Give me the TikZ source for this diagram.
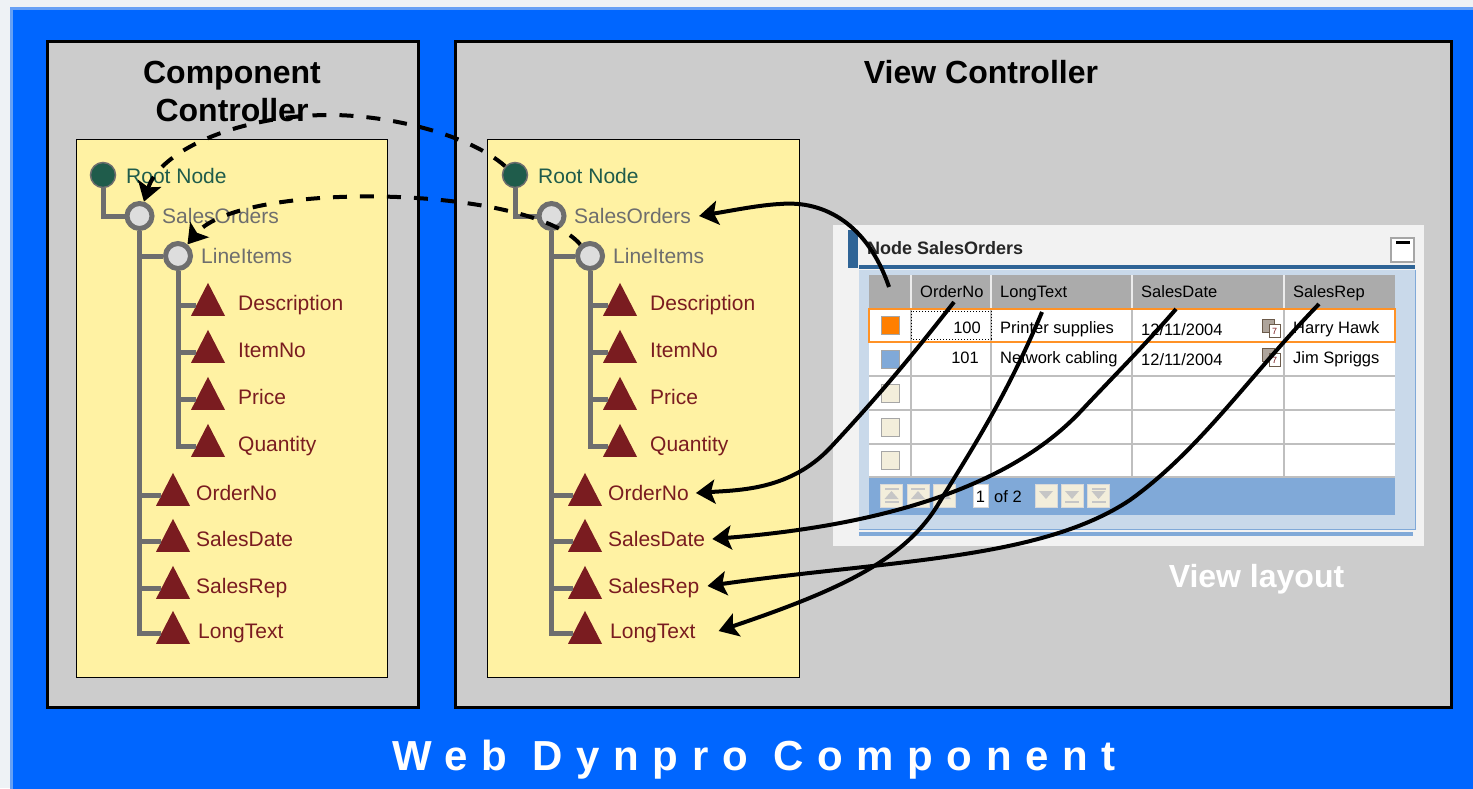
\documentclass[tikz,border=0pt]{standalone}
\usepackage{fontspec}
\setsansfont{Liberation Sans}
\usetikzlibrary{arrows.meta,shapes.geometric}
\definecolor{pagegray}{HTML}{EEF2F5}
\definecolor{frameblue}{HTML}{0066FF}
\definecolor{edgeblue}{HTML}{66A0F5}
\definecolor{panelgray}{HTML}{CCCCCC}
\definecolor{noteyellow}{HTML}{FFF2A3}
\definecolor{rootgreen}{HTML}{1F5C4B}
\definecolor{attrred}{HTML}{7A1C20}
\definecolor{treegray}{HTML}{6E6E6E}
\definecolor{ringgray}{HTML}{DDDDDD}
\definecolor{tabgray}{HTML}{F2F2F2}
\definecolor{tabblue}{HTML}{2F6496}
\definecolor{paleblue}{HTML}{C9D9EA}
\definecolor{barblue}{HTML}{80A9D8}
\definecolor{headgray}{HTML}{ABABAB}
\definecolor{selorange}{HTML}{FF7F00}
\definecolor{selbeige}{HTML}{F3EEDB}
\definecolor{calbrown}{HTML}{6B5A4A}
\begin{document}
\begin{tikzpicture}[y=-1pt, x=1pt,font=\sffamily,
	panel/.style={draw=black,line width=3pt,fill=panelgray},
	note/.style={draw=black,line width=.8pt,fill=noteyellow},
	title/.style={font=\sffamily\bfseries\fontsize{32}{38}\selectfont,align=center},
	treeline/.style={draw=treegray,line width=5pt},
	rootdot/.style={circle,draw=treegray,line width=1.5pt,fill=rootgreen,minimum size=25pt,inner sep=0pt},
	ring/.style={circle,draw=treegray,line width=5pt,fill=ringgray,minimum size=25pt,inner sep=0pt},
	attr/.style={isosceles triangle,isosceles triangle stretches,shape border rotate=90,fill=attrred,minimum width=34pt,minimum height=33pt,inner sep=0pt},
	treetext/.style={anchor=west,inner sep=2pt,text height=17pt,text depth=2pt,font=\sffamily\fontsize{21}{24}\selectfont},
	celltext/.style={anchor=west,inner sep=0pt,text height=15pt,text depth=2pt,font=\sffamily\fontsize{16.5}{18}\selectfont},
	selbox/.style={draw=gray!70,line width=1pt},
	pagebtn/.style={draw=gray!30,line width=1pt,fill=selbeige},
	maplink/.style={draw=black,line width=4pt,-{Stealth[length=19pt,width=24pt,inset=4pt]}},
	dashlink/.style={maplink,dash pattern=on 14pt off 13pt}]
	\useasboundingbox (0,0) rectangle (1473,788);
	%frame
	\fill[pagegray] (0,0) rectangle (1473,788);
	\draw[fill=frameblue,draw=edgeblue,line width=3pt] (11.5,8.5) rectangle (1480,800);
	\draw[panel] (47,41) rectangle (418,707);
	\draw[panel] (455,41) rectangle (1451,707);
	\draw[note] (76,139) rectangle (387,677);
	\draw[note] (487,139) rectangle (799,677);
	%titles
	\node[title] (title comp) at (232,91) {Component\\Controller};
	\node[title] (title view) at (981,72) {View Controller};
	\node[anchor=center,white] (title web) at (754,760) {\fontsize{42}{46}\selectfont\bfseries\addfontfeature{LetterSpace=32.5}Web Dynpro Component};
	%trees
	\foreach \t/\dx in {l/0,r/412}
	{
		\begin{scope}[xshift=\dx pt]
			\node[rootdot] (\t-root) at (103,175) {};
			\node[ring] (\t-orders) at (139.5,216) {};
			\node[ring] (\t-items) at (178,256) {};
			\node[treetext,text=rootgreen] (\t-root-label) at (124,176) {Root Node};
			\node[treetext,text=treegray] (\t-orders-label) at (160,216) {SalesOrders};
			\node[treetext,text=treegray] (\t-items-label) at (199,256) {LineItems};
			\draw[treeline] (\t-root) |- (\t-orders);
			\draw[treeline] (\t-orders) |- (\t-items);
			\foreach \a/\y/\atext in {
				desc/303/Description,
				item/350/ItemNo,
				price/397/Price,
				qty/444/Quantity
			}
			{
				\node[attr] (\t-\a) at (208,\y+2.5) {};
				\node[treetext,text=attrred] (\t-\a-label) at (236,\y) {\atext};
				\draw[treeline] (\t-items) |- (\t-\a.west);
			}
			\foreach \a/\y/\lx/\atext in {
				orderno/493/194/OrderNo,
				date/539/194/SalesDate,
				rep/586/194/SalesRep,
				long/631/196/LongText
			}
			{
				\node[attr] (\t-\a) at (173,\y+2.5) {};
				\node[treetext,text=attrred] (\t-\a-label) at (\lx,\y) {\atext};
				\draw[treeline] (\t-orders) |- (\t-\a.west);
			}
		\end{scope}
	}
	%view layout
	\fill[tabgray] (833,225) rectangle (1424,546);
	\fill[tabblue] (848,230) rectangle (858,268);
	\fill[paleblue] (859,270) rectangle (1415,529);
	\draw[barblue,line width=1pt] (1415,270) -- (1415,529) -- (859,529);
	\fill[tabblue] (859,265) rectangle (1415,269);
	\fill[barblue] (859,532) rectangle (1413,536);
	\node[anchor=west,inner sep=0pt,font=\sffamily\bfseries\fontsize{18}{20}\selectfont,text=black!85] (table title) at (867,248) {Node SalesOrders};
	\draw[gray!70,fill=white,line width=1.5pt] (1391,238) rectangle (1414,262);
	\fill[black] (1396,241) rectangle (1410,243.5);
	%table
	\fill[headgray] (869,275) rectangle (1395,308);
	\fill[white] (869,308) rectangle (1395,477);
	\fill[barblue] (869,478) rectangle (1395,515);
	\foreach \y in {342,376,410,444,477}
	\draw[gray!50,line width=1.5pt] (869,\y) -- (1395,\y);
	\foreach \x in {911,991,1132,1284}
	{
		\draw[white!85!gray,line width=1.5pt] (\x,275) -- (\x,308);
		\draw[gray!50,line width=1.5pt] (\x,308) -- (\x,477);
	}
	\draw[selorange!85,line width=2pt] (869,309) rectangle (1395,342);
	\draw[black,line width=1pt,dotted] (911,311) rectangle (991,339);
	\foreach \y/\c in {316/selorange,350/barblue,384/selbeige,418/selbeige,451/selbeige}
	\draw[selbox,fill=\c] (881,\y) rectangle (899,\y+18);
	%table texts
	\node[celltext] (hd order) at (920,291) {OrderNo};
	\node[celltext] (hd long) at (1000,291) {LongText};
	\node[celltext] (hd date) at (1141,291) {SalesDate};
	\node[celltext] (hd rep) at (1293,291) {SalesRep};
	\node[celltext,anchor=east] (cell 100) at (981,327) {100};
	\node[celltext,anchor=east] (cell 101) at (979,357) {101};
	\node[celltext] (cell print) at (1000,327) {Printer supplies};
	\node[celltext] (cell net) at (1000,357) {Network cabling};
	\node[celltext] (cell date a) at (1141,329) {12/11/2004};
	\node[celltext] (cell date b) at (1141,359) {12/11/2004};
	\node[celltext] (cell harry) at (1293,327) {Harry Hawk};
	\node[celltext] (cell jim) at (1293,357) {Jim Spriggs};
	%calendar icons
	\foreach \y/\n in {319/a,348/b}
	{
		\draw[calbrown,fill=calbrown!55!white,line width=1pt] (1262,\y) rectangle (1274,\y+13);
		\draw[calbrown,fill=white,line width=1pt] (1269,\y+5) rectangle (1280,\y+18);
		\node[inner sep=0pt,text=attrred,font=\sffamily\fontsize{9}{9}\selectfont] (cal \n) at (1274.5,\y+12) {7};
	}
	%paging
	\foreach \x in {880,907,933,1035,1061,1087}
	\draw[pagebtn] (\x,484) rectangle (\x+22,507);
	\foreach \x in {891.5,918,944}
	\fill[gray!45] (\x-7,499) -- (\x,491) -- (\x+7,499) -- cycle;
	\foreach \x in {1046,1072,1098.5}
	\fill[gray!45] (\x-7,491) -- (\x,499) -- (\x+7,491) -- cycle;
	\foreach \x in {891.5,918}
	\fill[gray!45] (\x-7,487.5) rectangle (\x+7,489.5);
	\foreach \x in {1072,1098.5}
	\fill[gray!45] (\x-7,500.5) rectangle (\x+7,502.5);
	\fill[gray!45] (884.5,500.5) rectangle (898.5,502.5);
	\fill[gray!45] (1091.5,487.5) rectangle (1105.5,489.5);
	\draw[gray!30,fill=white,line width=1pt] (973,484) rectangle (988,507);
	\node[celltext,anchor=center] (page no) at (980.5,496) {1};
	\node[celltext] (page of) at (994,496) {of 2};
	\node[white,font=\sffamily\bfseries\fontsize{32}{34}\selectfont] (layout label) at (1256.5,579.5) {View layout};
	%link ends
	\coordinate (from sel) at (889,287);
	\coordinate (from order) at (954,302);
	\coordinate (from long) at (1042,312);
	\coordinate (from date) at (1176,309);
	\coordinate (from rep) at (1319,304);
	%links
	\draw[dashlink] (r-root) .. controls (470,135) and (390,115) .. (330,115) .. controls (240,115) and (160,150) .. (l-orders);
	\draw[dashlink] (r-items) .. controls (530,185) and (240,180) .. (l-items);
	\draw[maplink] (from sel) .. controls (868,225) and (825,200) .. (780,204) .. controls (760,205) and (735,210) .. ([xshift=6pt]r-orders-label.east);
	\draw[maplink] (from order) .. controls (905,365) and (870,405) .. (830,448) .. controls (790,490) and (740,490) .. ([xshift=5pt]r-orderno-label.east);
	\draw[maplink] (from long) .. controls (1005,400) and (968,455) .. (939,503) .. controls (905,560) and (840,590) .. ([xshift=21pt]r-long-label.east);
	\draw[maplink] (from date) .. controls (1145,345) and (1110,380) .. (1082,410) .. controls (1040,455) and (950,520) .. ([xshift=5pt]r-date-label.east);
	\draw[maplink] (from rep) .. controls (1250,375) and (1200,450) .. (1130,500) .. controls (1040,560) and (890,560) .. ([xshift=6pt]r-rep-label.east);
\end{tikzpicture}
\end{document}
